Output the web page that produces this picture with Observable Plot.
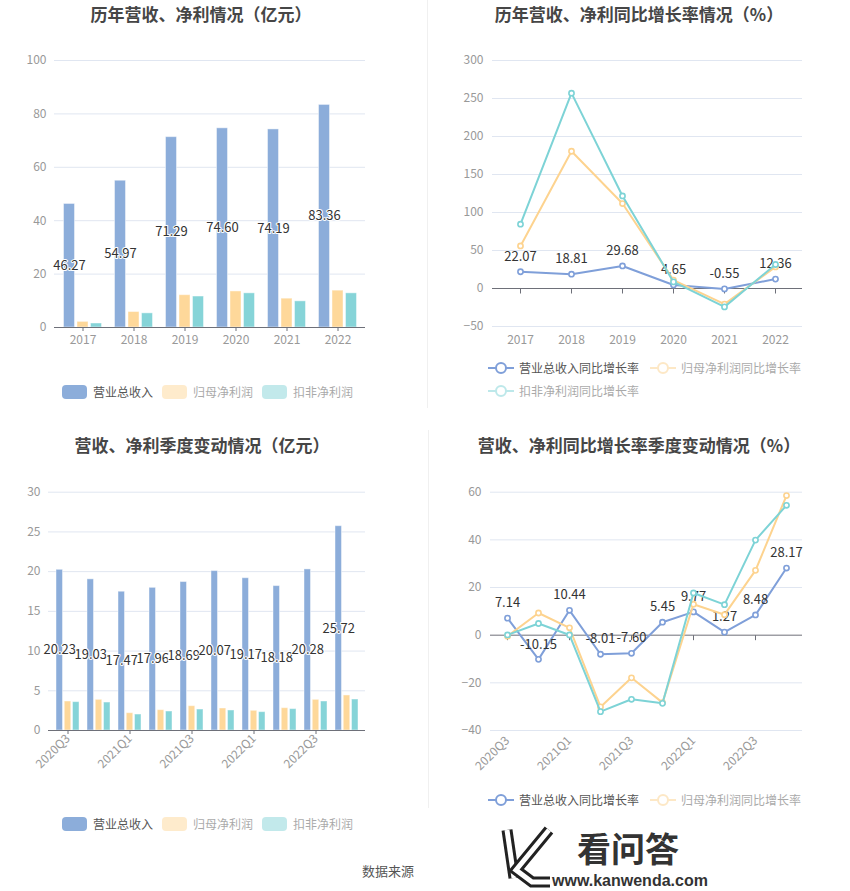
<!DOCTYPE html>
<html><head><meta charset="utf-8">
<script src="https://cdn.jsdelivr.net/npm/d3@7"></script>
<script src="https://cdn.jsdelivr.net/npm/@observablehq/plot@0.6"></script>
<style>
body{margin:0;background:#fff;font-family:"Noto Sans CJK SC","Noto Sans",sans-serif;}
#root{position:relative;width:850px;height:891px;overflow:hidden;background:#fff;}
.title{position:absolute;font-weight:bold;font-size:17px;color:#464646;text-align:center;line-height:22px;white-space:nowrap;}
.leg{position:absolute;font-size:12px;line-height:16px;color:#555;white-space:nowrap;display:flex;align-items:center;}
.sw{width:25px;height:14px;border-radius:4px;margin-right:6px;}
.fade{opacity:0.5;}
.div{position:absolute;width:1px;background:#f0f0f0;}
</style></head>
<body><div id="root"></div>
<script>
// ---------- data ----------
const years = ["2017", "2018", "2019", "2020", "2021", "2022"];
const yearRevenue = [46.27, 54.97, 71.29, 74.60, 74.19, 83.36];
const yearNetProfit = [2.1, 5.8, 12.1, 13.5, 10.8, 13.8];
const yearDeductedProfit = [1.5, 5.3, 11.6, 12.8, 9.8, 12.8];
const yearRevenueGrowth = [22.07, 18.81, 29.68, 4.65, -0.55, 12.36];
const yearNetProfitGrowth = [56.0, 180.6, 111.8, 11.0, -20.6, 28.4];
const yearDeductedGrowth = [84.6, 257.0, 121.8, 8.7, -24.2, 31.6];

const quarters = ["2020Q3", "2020Q4", "2021Q1", "2021Q2", "2021Q3", "2021Q4", "2022Q1", "2022Q2", "2022Q3", "2022Q4"];
const quarterTicks = ["2020Q3", "2021Q1", "2021Q3", "2022Q1", "2022Q3"];
const qRevenue = [20.23, 19.03, 17.47, 17.96, 18.69, 20.07, 19.17, 18.18, 20.28, 25.72];
const qNetProfit = [3.65, 3.86, 2.18, 2.56, 3.06, 2.77, 2.48, 2.81, 3.86, 4.41];
const qDeductedProfit = [3.57, 3.52, 2.01, 2.39, 2.64, 2.52, 2.31, 2.69, 3.65, 3.90];
const qRevenueGrowth = [7.14, -10.15, 10.44, -8.01, -7.60, 5.45, 9.77, 1.27, 8.48, 28.17];
const qNetProfitGrowth = [-0.4, 9.3, 3.1, -30.1, -17.9, -28.3, 13.0, 8.6, 27.2, 58.6];
const qDeductedGrowth = [0.1, 4.9, 0.1, -32.1, -26.9, -28.6, 17.7, 12.8, 39.9, 54.5];

const yearBarTicks = [0, 20, 40, 60, 80, 100];
const yearRateTicks = [-50, 0, 50, 100, 150, 200, 250, 300];
const qBarTicks = [0, 5, 10, 15, 20, 25, 30];
const qRateTicks = [-40, -20, 0, 20, 40, 60];

const barSeriesNames = ["营业总收入", "归母净利润", "扣非净利润"];
const rateSeriesNames = ["营业总收入同比增长率", "归母净利润同比增长率", "扣非净利润同比增长率"];
const titles = ["历年营收、净利情况（亿元）", "历年营收、净利同比增长率情况（%）", "营收、净利季度变动情况（亿元）", "营收、净利同比增长率季度变动情况（%）"];

// ---------- style ----------
const FONT = '"Noto Sans CJK SC","Noto Sans",sans-serif';
const BLUE = "#8cadda", ORANGE = "#fed89a", TEAL = "#86d4d8";
const LBLUE = "#7f9fd9", LORANGE = "#fdd38f", LTEAL = "#7dd3d6";
const GRID = "#e0e6f1", AXIS = "#6e7079", TICKTXT = "#999";
const root = document.getElementById("root");

function place(el, left, top) {
  el.style.position = "absolute";
  el.style.left = left + "px";
  el.style.top = top + "px";
  root.appendChild(el);
}

const tickSymbol = {draw(ctx) { ctx.moveTo(0, 0); ctx.lineTo(0, 5); }};

function barChart(c) {
  const rows = c.cats.map((d, i) => ({cat: d, rev: c.rev[i], np: c.np[i], dp: c.dp[i]}));
  const [ins0, ins1, ins2] = c.insets;
  return Plot.plot({
    width: c.width, height: c.height,
    marginTop: c.mt, marginBottom: c.mb, marginLeft: c.ml, marginRight: c.mr,
    style: {fontFamily: FONT, fontSize: "12px", color: TICKTXT, background: "none", overflow: "visible"},
    x: {type: "band", domain: c.cats, padding: 0, label: null},
    y: {domain: c.yDomain, label: null},
    marks: [
      Plot.gridY(c.yTicks.filter(t => t !== 0), {stroke: GRID, strokeOpacity: 1}),
      Plot.axisY({ticks: c.yTicks, tickSize: 0, tickPadding: c.yPad, fill: TICKTXT, label: null, fontSize: 12}),
      Plot.barY(rows, {x: "cat", y: "rev", fill: BLUE, stroke: "#fff", strokeOpacity: 0.45, strokeWidth: 1, insetLeft: ins0[0], insetRight: ins0[1]}),
      Plot.barY(rows, {x: "cat", y: "np", fill: ORANGE, stroke: "#fff", strokeOpacity: 0.45, strokeWidth: 1, insetLeft: ins1[0], insetRight: ins1[1]}),
      Plot.barY(rows, {x: "cat", y: "dp", fill: TEAL, stroke: "#fff", strokeOpacity: 0.45, strokeWidth: 1, insetLeft: ins2[0], insetRight: ins2[1]}),
      Plot.ruleY([0], {stroke: AXIS}),
      Plot.axisX({ticks: c.xTicks, tickSize: 4, tickPadding: c.xPad, tickRotate: c.rotate, stroke: AXIS, fill: TICKTXT, label: null, fontSize: 12}),
      Plot.text(rows, {x: "cat", y: d => d.rev / 2, text: d => d.rev.toFixed(2), dx: c.labelDx, fill: "#333", stroke: "#fff", strokeWidth: 2, fontSize: 13})
    ]
  });
}

function rateChart(c) {
  const rows = c.cats.map((d, i) => ({cat: d, a: c.a[i], b: c.b[i], t: c.t[i]}));
  return Plot.plot({
    width: c.width, height: c.height,
    marginTop: c.mt, marginBottom: c.mb, marginLeft: c.ml, marginRight: c.mr,
    style: {fontFamily: FONT, fontSize: "12px", color: TICKTXT, background: "none", overflow: "visible"},
    x: {type: "point", domain: c.cats, padding: 0.5, label: null},
    y: {domain: c.yDomain, label: null},
    marks: [
      Plot.gridY(c.yTicks.filter(t => t !== 0), {stroke: GRID, strokeOpacity: 1}),
      Plot.axisY({ticks: c.yTicks, tickSize: 0, tickPadding: c.yPad, fill: TICKTXT, label: null, fontSize: 12}),
      Plot.axisX({ticks: c.xTicks, tickSize: 0, tickPadding: c.xPad, tickRotate: c.rotate, fill: TICKTXT, label: null, fontSize: 12}),
      Plot.ruleY([0], {stroke: AXIS}),
      Plot.dot(c.xTicks, {x: d => d, y: () => 0, symbol: tickSymbol, r: 3, stroke: AXIS, fill: "none", strokeWidth: 1}),
      Plot.line(rows, {x: "cat", y: "a", stroke: LBLUE, strokeWidth: 2}),
      Plot.dot(rows, {x: "cat", y: "a", r: 2.6, stroke: LBLUE, strokeWidth: 1.6, fill: "#fff"}),
      Plot.text(rows, {x: "cat", y: "a", text: d => d.a.toFixed(2), dy: -15, fill: "#333", fontSize: 13}),
      Plot.line(rows, {x: "cat", y: "b", stroke: LORANGE, strokeWidth: 2}),
      Plot.dot(rows, {x: "cat", y: "b", r: 2.6, stroke: LORANGE, strokeWidth: 1.6, fill: "#fff"}),
      Plot.line(rows, {x: "cat", y: "t", stroke: LTEAL, strokeWidth: 2}),
      Plot.dot(rows, {x: "cat", y: "t", r: 2.6, stroke: LTEAL, strokeWidth: 1.6, fill: "#fff"})
    ]
  });
}

// ---------- charts ----------
place(barChart({
  cats: years, rev: yearRevenue, np: yearNetProfit, dp: yearDeductedProfit,
  width: 425, height: 320, mt: 20, mb: 33, ml: 54, mr: 60,
  yDomain: [0, 100], yTicks: yearBarTicks, yPad: 8, xTicks: years, xPad: 4, rotate: 0,
  insets: [[6.5, 33.5], [20, 20], [33.5, 6.5]], labelDx: -13.5
}), 0, 40);

place(rateChart({
  cats: years, a: yearRevenueGrowth, b: yearNetProfitGrowth, t: yearDeductedGrowth,
  width: 425, height: 320, mt: 20, mb: 34, ml: 67, mr: 48,
  yDomain: [-50, 300], yTicks: yearRateTicks, yPad: 9, xTicks: years, xPad: 8.5, rotate: 0
}), 425, 40);

place(barChart({
  cats: quarters, rev: qRevenue, np: qNetProfit, dp: qDeductedProfit,
  width: 425, height: 330, mt: 21.7, mb: 70, ml: 48, mr: 60,
  yDomain: [0, 30], yTicks: qBarTicks, yPad: 8, xTicks: quarterTicks, xPad: 2, rotate: -45,
  insets: [[4, 20.5], [12.25, 12.25], [20.5, 4]], labelDx: -8.25
}), 0, 470);

place(rateChart({
  cats: quarters, a: qRevenueGrowth, b: qNetProfitGrowth, t: qDeductedGrowth,
  width: 425, height: 330, mt: 21.7, mb: 70, ml: 65, mr: 48,
  yDomain: [-40, 60], yTicks: qRateTicks, yPad: 9, xTicks: quarterTicks, xPad: 8, rotate: -45
}), 425, 470);

// ---------- titles ----------
function title(text, cx, cy) {
  const d = document.createElement("div");
  d.className = "title";
  d.textContent = text;
  d.style.width = "400px";
  place(d, cx - 200, cy - 11);
}
title(titles[0], 201, 14);
title(titles[1], 639, 14);
title(titles[2], 202, 445);
title(titles[3], 639, 445);

// ---------- legends ----------
const barColors = [BLUE, ORANGE, TEAL];
const lineColors = [LBLUE, LORANGE, LTEAL];
function barLegend(top) {
  const xs = [62, 162, 262];
  barSeriesNames.forEach((name, i) => {
    const d = document.createElement("div");
    d.className = "leg" + (i > 0 ? " fade" : "");
    d.innerHTML = `<div class="sw" style="background:${barColors[i]}"></div><span>${name}</span>`;
    place(d, xs[i], top - 8);
  });
}
function lineLegend(positions) {
  positions.forEach(([x, y], i) => {
    const d = document.createElement("div");
    d.className = "leg" + (i > 0 ? " fade" : "");
    d.innerHTML = `<svg width="26" height="14" style="margin-right:5px"><line x1="0" y1="7" x2="26" y2="7" stroke="${lineColors[i]}" stroke-width="2"/><circle cx="13" cy="7" r="5" fill="#fff" stroke="${lineColors[i]}" stroke-width="2"/></svg><span>${rateSeriesNames[i]}</span>`;
    place(d, x, y - 8);
  });
}
barLegend(391.5);
barLegend(823.5);
lineLegend([[488, 367.5], [650, 367.5], [488, 390.5]]);
// the third entry of this legend is hidden under the watermark in the original
lineLegend([[488, 800], [650, 800]]);

// ---------- dividers ----------
const dv1 = document.createElement("div"); dv1.className = "div"; dv1.style.height = "408px"; place(dv1, 427, 0);
const dv2 = document.createElement("div"); dv2.className = "div"; dv2.style.height = "378px"; place(dv2, 428, 430);

// ---------- source + watermark ----------
const src = document.createElement("div");
src.textContent = "数据来源";
src.style.cssText = "font-size:13px;color:#555;line-height:18px;";
place(src, 362, 862);

const wm = document.createElement("div");
wm.style.cssText = "width:260px;height:71px;background:#fff;";
wm.innerHTML = `
<svg width="260" height="71" style="position:absolute;left:0;top:0">
  <g fill="none" stroke-linejoin="miter">
    <path d="M37,10 L44,58" stroke="#222" stroke-width="11"/>
    <path d="M37,10 L44,58" stroke="#fff" stroke-width="5"/>
    <path d="M79,10 L46,50 L62,62 L80,62" stroke="#222" stroke-width="11"/>
    <path d="M79,10 L46,50 L62,62 L80,62" stroke="#fff" stroke-width="5"/>
  </g>
</svg>
<div style="position:absolute;left:107px;top:8px;font-size:34px;font-weight:bold;color:#333;line-height:40px;">看问答</div>
<div style="position:absolute;left:82px;top:52px;font-family:'Liberation Sans',Arial,sans-serif;font-size:16px;font-weight:bold;color:#333;line-height:17px;">www.kanwenda.com</div>`;
place(wm, 470, 820);
</script>
</body></html>
